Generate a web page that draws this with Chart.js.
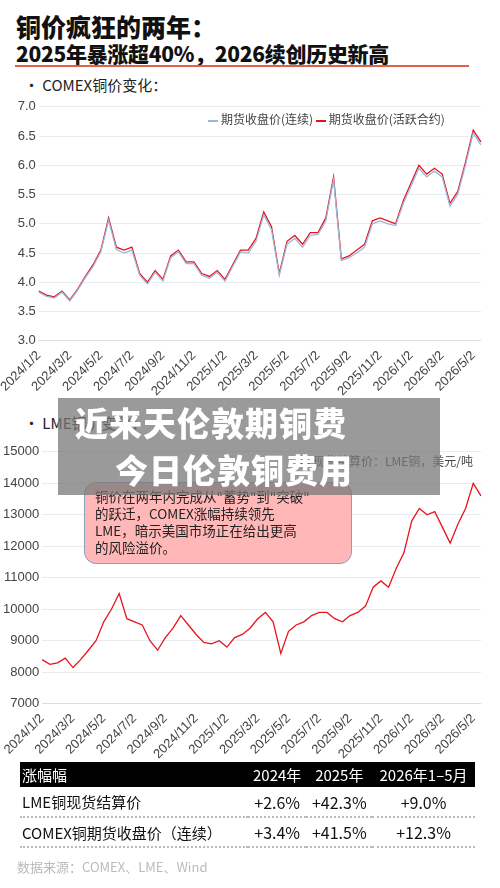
<!DOCTYPE html>
<html><head><meta charset="utf-8">
<script src="https://cdn.jsdelivr.net/npm/chart.js@4/dist/chart.umd.min.js"></script>
<style>
body{margin:0;width:500px;height:888px;background:#fff;font-family:"Noto Sans CJK SC","Noto Sans",sans-serif;position:relative;overflow:hidden;color:#111}
.abs{position:absolute}
#t1{left:16px;top:8px;font-size:25px;font-weight:900}
#t2{left:16px;top:38px;font-size:21px;font-weight:900;letter-spacing:-0.3px}
#rule{left:15px;top:65px;width:454px;height:2px;background:#e0604a}
.sub{font-size:15px;color:#222}
.leg{font-size:12px;color:#444;white-space:nowrap}
.leg i{display:inline-block;width:10px;height:2px;vertical-align:middle;margin-right:3px}
#c1w{left:0;top:96px;width:495px;height:306px}
#c2w{left:0;top:441px;width:495px;height:324px}
#note{left:84px;top:482px;width:268px;height:82px;background:rgba(255,170,170,0.85);border:1.5px solid #8aa0b5;border-radius:12px;padding:5px 10px;box-sizing:border-box;font-size:13.5px;line-height:17px;color:#222;white-space:nowrap}
#ban{left:58px;top:398px;width:382px;height:97px;background:rgba(120,120,120,0.75)}
.bt{color:#fff;font-size:33px;font-weight:900;letter-spacing:1px;white-space:nowrap}
table{border-collapse:collapse;font-size:15px}
</style></head><body>
<div class="abs" id="t1">铜价疯狂的两年：</div>
<div class="abs" id="t2">2025年暴涨超40%，2026续创历史新高</div>
<div class="abs" id="rule"></div>
<div class="abs sub" style="left:24px;top:74px">· COMEX铜价变化：</div>
<div class="abs" id="c1w"><canvas id="c1"></canvas></div>
<div class="abs leg" style="left:208px;top:110px"><i style="background:#9bb8d8"></i>期货收盘价(连续) <i style="background:#e8141c"></i>期货收盘价(活跃合约)</div>
<div class="abs sub" style="left:24px;top:412px">· LME铜价变化：</div>
<div class="abs" id="c2w"><canvas id="c2"></canvas></div>
<div class="abs leg" style="left:300px;top:452px"><i style="background:#e8141c"></i>现货结算价：LME铜，美元/吨</div>
<div class="abs" id="note">铜价在两年内完成从"蓄势"到"突破"<br>的跃迁，COMEX涨幅持续领先<br>LME，暗示美国市场正在给出更高<br>的风险溢价。</div>
<div class="abs" id="ban"></div>
<div class="abs bt" style="left:75px;top:398px">近来天伦敦期铜费</div>
<div class="abs bt" style="left:115px;top:445px">今日伦敦铜费用</div>
<div class="abs" style="left:20px;top:762px;width:455px">
<table id="tbl" style="width:100%"></table>
</div>
<div class="abs" style="left:17px;top:857px;font-size:13px;color:#bbb">数据来源：COMEX、LME、Wind</div>
<script>
// ===== Data (half-monthly readings) =====
const months = [];
for (let y = 2024; y <= 2026; y++) for (let m = 1; m <= 12; m++) {
  if (y === 2026 && m > 5) break;
  months.push(y + '/' + m + '/2', y + '/' + m + '/17');
}
const comexActive = [3.85,3.78,3.75,3.85,3.70,3.88,4.10,4.30,4.55,5.10,4.60,4.55,4.60,4.15,4.00,4.20,
  4.05,4.45,4.55,4.35,4.35,4.15,4.10,4.20,4.05,4.30,4.55,4.55,4.75,5.20,4.95,4.15,4.70,4.80,4.65,4.85,
  4.85,5.10,5.80,4.40,4.45,4.55,4.65,5.05,5.10,5.05,5.00,5.40,5.70,6.00,5.85,5.95,5.85,5.35,5.55,6.05,6.60,6.40];
const comexCont = [3.83,3.76,3.73,3.83,3.68,3.86,4.08,4.27,4.52,5.06,4.56,4.50,4.55,4.12,3.97,4.17,
  4.02,4.42,4.52,4.32,4.32,4.12,4.07,4.17,4.02,4.27,4.52,4.50,4.70,5.15,4.90,4.12,4.65,4.75,4.60,4.80,
  4.82,5.05,5.75,4.37,4.42,4.50,4.60,5.00,5.05,5.00,4.97,5.35,5.65,5.95,5.80,5.90,5.80,5.30,5.50,6.00,6.55,6.35];
const lmeSpot = [8400,8250,8300,8450,8150,8400,8700,9000,9600,10000,10500,9700,9600,9500,9000,8700,
  9100,9400,9800,9500,9200,8950,8900,9000,8800,9100,9200,9400,9700,9900,9600,8600,9300,9500,9600,9800,
  9900,9900,9700,9600,9800,9900,10100,10700,10900,10700,11300,11800,12800,13200,13000,13100,12600,12100,12700,13200,14000,13600];
const tableHead = ['涨幅幅','2024年','2025年','2026年1–5月'];
const tableRows = [['LME铜现货结算价','+2.6%','+42.3%','+9.0%'],['COMEX铜期货收盘价（连续）','+3.4%','+41.5%','+12.3%']];

// ===== Charts =====
const tickFont = { family: 'Liberation Sans, Arial, sans-serif', size: 13 };
function xAxis() {
  return {
    grid: { display: false, drawTicks: true, tickLength: 4 },
    border: { color: '#ddd' },
    ticks: { autoSkip: false, maxRotation: 45, minRotation: 45, color: '#444', font: tickFont,
      callback: (v, i) => i % 4 === 0 ? months[i] : '' }
  };
}
function yAxis(min, max, step) {
  return {
    min, max, ticks: { stepSize: step, color: '#444', font: tickFont,
      callback: v => step < 1 ? v.toFixed(1) : v },
    grid: { color: '#e6ecf2', drawTicks: false }, border: { display: false }
  };
}
Chart.defaults.animation = false;

function lineChart(id, datasets, min, max, step) {
  new Chart(document.getElementById(id), {
    type: 'line',
    data: { labels: months, datasets },
    options: {
      responsive: true, maintainAspectRatio: false,
      layout: { padding: { right: 10, top: 4 } },
      plugins: { legend: { display: false } },
      scales: { x: xAxis(), y: yAxis(min, max, step) }
    }
  });
}
lineChart('c1', [
  { data: comexCont, borderColor: '#9bb8d8', borderWidth: 1.3, pointRadius: 0 },
  { data: comexActive, borderColor: '#e8141c', borderWidth: 1.3, pointRadius: 0 }
], 3, 7, 0.5);
lineChart('c2', [
  { data: lmeSpot, borderColor: '#e8141c', borderWidth: 1.3, pointRadius: 0 }
], 7000, 15000, 1000);

// ===== Table =====
const tbl = document.getElementById('tbl');
let html = '<tr style="background:#000;color:#fff;height:25px">' +
  tableHead.map((h, i) => `<td style="text-align:${i ? 'center' : 'left'};padding:0 2px">${h}</td>`).join('') + '</tr>';
tableRows.forEach(r => {
  html += '<tr style="height:30px;border-bottom:2px dotted #bbb">' +
    r.map((c, i) => `<td style="text-align:${i ? 'center' : 'left'};font-size:${i ? 16 : 15}px;padding:0 2px">${c}</td>`).join('') + '</tr>';
});
tbl.innerHTML = html;
</script>
</body></html>
